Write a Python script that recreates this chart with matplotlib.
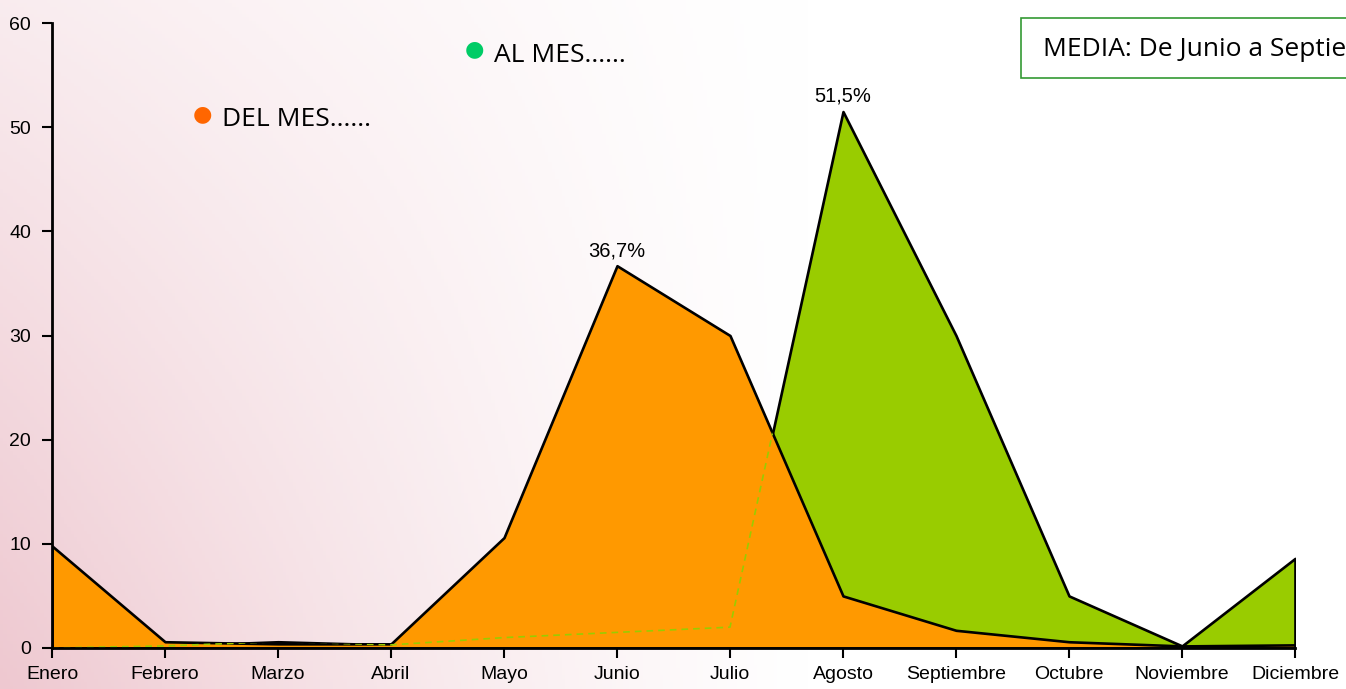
import numpy as np
import matplotlib
matplotlib.use("Agg")
import matplotlib.pyplot as plt
from matplotlib.patches import Rectangle

months = ["Enero", "Febrero", "Marzo", "Abril", "Mayo", "Junio", "Julio",
          "Agosto", "Septiembre", "Octubre", "Noviembre", "Diciembre"]
del_mes = [9.8, 0.6, 0.4, 0.4, 10.6, 36.7, 30.0, 5.0, 1.7, 0.6, 0.2, 0.3]
al_mes = [0.0, 0.2, 0.6, 0.3, 1.0, 1.5, 2.0, 51.5, 30.0, 5.0, 0.2, 8.6]
yticks = [0, 10, 20, 30, 40, 50, 60]
peak_labels = {5: ("36,7%", del_mes), 7: ("51,5%", al_mes)}

W, H, DPI = 1346, 689, 100
fig = plt.figure(figsize=(W / DPI, H / DPI), dpi=DPI)

# background gradient (pink on left fading to white)
bg = fig.add_axes([0, 0, 1, 1], zorder=-10)
gx = np.linspace(0, 1, 400)
gy = np.linspace(0, 1, 200)
X, Y = np.meshgrid(gx, gy)
w = np.clip(1 - X / 0.6, 0, 1) ** 1.2 * (0.35 + 0.65 * Y)
pink = np.array([238, 200, 208]) / 255.0
white = np.array([1.0, 1.0, 1.0])
img = white[None, None, :] * (1 - w[..., None]) + pink[None, None, :] * w[..., None]
bg.imshow(img, extent=[0, 1, 0, 1], origin="upper", aspect="auto")
bg.axis("off")

ax = fig.add_axes([52 / W, 41 / H, (1295 - 52) / W, (648 - 23) / H])
ax.patch.set_alpha(0)
x = np.arange(len(months))

ax.fill_between(x, 0, al_mes, facecolor="#99cc00", edgecolor="black",
                linewidth=1.9, zorder=2)
orange = ax.fill_between(x, 0, del_mes, facecolor="#ff9900", edgecolor="black",
                         linewidth=1.9, zorder=3)
gline, = ax.plot(x, al_mes, color="#99cc00", linestyle=(0, (4, 3)),
                 linewidth=1.2, zorder=4)
gline.set_clip_path(orange.get_paths()[0], ax.transData)

for i, (txt, series) in peak_labels.items():
    ax.annotate(txt, (x[i], series[i]), xytext=(0, 4), textcoords="offset points",
                ha="center", va="bottom", fontsize=14.5, family="Liberation Sans",
                zorder=6)

ax.set_xlim(0, 11)
ax.set_ylim(0, 60)
ax.set_xticks(x)
ax.set_xticklabels(months, fontsize=14, family="Liberation Sans")
ax.set_yticks(yticks)
ax.set_yticklabels([str(v) for v in yticks], fontsize=14, family="Liberation Sans")
ax.tick_params(axis="both", direction="out", length=7, width=1.5, color="black")
ax.tick_params(axis="x", pad=6)
ax.tick_params(axis="y", pad=8)
for s in ["top", "right"]:
    ax.spines[s].set_visible(False)
for s in ["left", "bottom"]:
    ax.spines[s].set_linewidth(2)
    ax.spines[s].set_zorder(5)

# legend-like annotations
fig.text(202 / W, 1 - 114 / H, "\u25CF", color="#ff6600", fontsize=16,
         ha="center", va="center", family="DejaVu Sans")
fig.text(222 / W, 1 - 120 / H, "DEL MES......", fontsize=19, family="Open Sans",
         ha="left", va="center", color="black")
fig.text(474 / W, 1 - 49 / H, "\u25CF", color="#00cc66", fontsize=16,
         ha="center", va="center", family="DejaVu Sans")
fig.text(494 / W, 1 - 55 / H, "AL MES......", fontsize=19, family="Open Sans",
         ha="left", va="center", color="black")

# MEDIA box (extends beyond the right edge, as in the reference)
fig.patches.append(Rectangle((1021 / W, 1 - 78 / H), 0.4, 60 / H,
                             transform=fig.transFigure, facecolor="white",
                             edgecolor="#339933", linewidth=1.2, zorder=1))
fig.text(1043 / W, 1 - 50 / H, "MEDIA: De Junio a Septiembre", fontsize=19,
         family="Open Sans", ha="left", va="center", color="black")

fig.savefig("out.png", dpi=DPI)
